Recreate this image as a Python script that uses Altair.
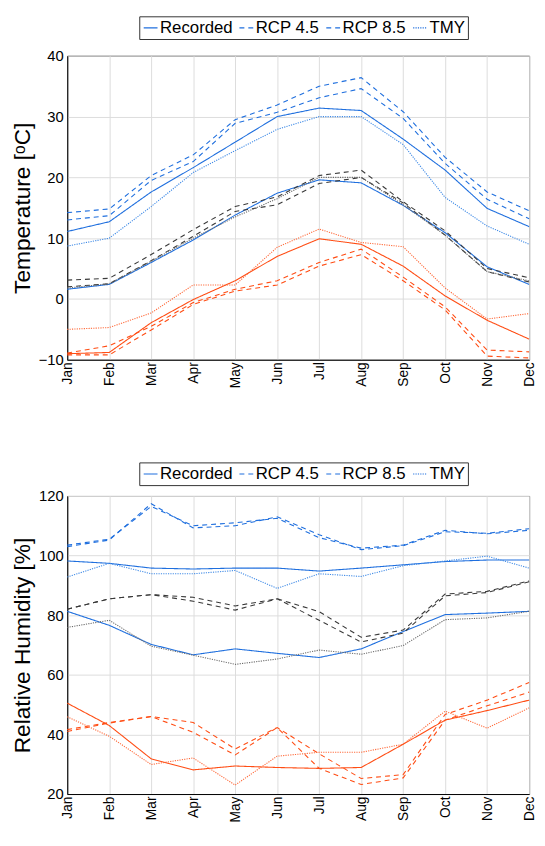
import altair as alt
import pandas as pd

months = ["Jan", "Feb", "Mar", "Apr", "May", "Jun", "Jul", "Aug", "Sep", "Oct", "Nov", "Dec"]
scenarios = ["Recorded", "RCP 4.5", "RCP 8.5", "TMY"]

# Temperature [oC]
t_max_rec = [11.1, 12.7, 17.6, 21.6, 25.8, 30.0, 31.4, 31.0, 26.3, 21.2, 14.9, 11.9]
t_max_45 = [13.0, 13.7, 19.5, 22.6, 28.9, 30.7, 33.1, 34.6, 29.7, 22.3, 16.4, 13.2]
t_max_85 = [14.2, 14.8, 20.3, 23.7, 29.5, 31.9, 35.0, 36.4, 30.8, 23.3, 17.6, 14.5]
t_max_tmy = [8.7, 10.0, 15.2, 20.8, 24.4, 27.9, 30.0, 30.0, 25.4, 16.7, 12.0, 9.0]

t_mean_rec = [1.6, 2.4, 6.0, 9.7, 13.8, 17.4, 19.6, 19.1, 15.4, 10.9, 5.3, 2.4]
t_mean_45 = [2.0, 2.5, 6.3, 10.3, 14.4, 15.5, 19.0, 20.0, 15.8, 10.5, 4.5, 2.8]
t_mean_85 = [3.1, 3.4, 7.3, 11.4, 15.2, 16.8, 20.3, 21.2, 16.0, 11.2, 5.0, 3.5]
t_mean_tmy = [1.8, 2.5, 6.2, 10.0, 13.5, 16.5, 20.0, 20.0, 15.5, 10.5, 4.5, 3.0]

t_min_rec = [-9.0, -8.8, -3.9, -0.1, 3.0, 7.0, 9.9, 9.0, 5.4, 0.5, -3.5, -6.6]
t_min_45 = [-9.2, -9.2, -5.1, -0.9, 1.3, 2.3, 5.4, 7.3, 3.0, -1.8, -9.4, -9.7]
t_min_85 = [-8.9, -7.7, -4.5, -0.6, 1.6, 3.0, 6.0, 8.2, 3.6, -1.3, -8.4, -8.7]
t_min_tmy = [-5.0, -4.7, -2.3, 2.3, 2.3, 8.5, 11.5, 9.3, 8.6, 1.8, -3.3, -2.4]

# Relative humidity [%]
h_max_rec = [98.2, 97.4, 95.8, 95.5, 95.8, 95.8, 94.8, 95.8, 96.9, 98.0, 98.5, 98.5]
h_max_45 = [103.0, 105.2, 117.4, 109.3, 110.0, 113.0, 107.0, 102.0, 103.3, 108.0, 107.5, 109.0]
h_max_85 = [103.5, 105.5, 116.5, 110.0, 111.0, 112.5, 106.0, 102.5, 103.5, 108.5, 107.3, 108.5]
h_max_tmy = [92.8, 97.4, 93.9, 93.9, 95.0, 89.0, 93.9, 93.0, 96.6, 98.2, 99.8, 95.8]

h_mean_rec = [81.3, 76.6, 70.2, 66.7, 68.7, 67.2, 65.8, 68.7, 74.5, 80.2, 80.7, 81.3]
h_mean_45 = [82.0, 85.5, 86.9, 84.7, 81.7, 85.5, 78.3, 71.0, 74.0, 86.5, 87.6, 91.2]
h_mean_85 = [82.0, 85.5, 86.9, 86.0, 83.1, 85.5, 81.2, 72.6, 75.0, 87.1, 88.0, 91.5]
h_mean_tmy = [75.9, 78.3, 69.6, 66.6, 63.5, 65.3, 68.3, 66.9, 69.8, 78.5, 79.1, 81.3]

h_min_rec = [50.5, 43.0, 31.8, 28.1, 29.4, 28.9, 28.6, 28.9, 36.7, 44.8, 48.0, 51.5]
h_min_45 = [41.0, 43.8, 46.0, 40.7, 33.1, 42.3, 28.6, 23.2, 25.4, 44.8, 49.6, 54.2]
h_min_85 = [41.6, 44.0, 46.0, 44.0, 35.1, 42.3, 33.5, 25.2, 26.5, 46.7, 51.5, 57.4]
h_min_tmy = [45.9, 39.4, 29.9, 32.1, 23.0, 32.7, 34.0, 34.0, 36.7, 47.8, 42.1, 48.9]

BLUE = "#1f6fde"
BLUE_L = "#3f8ae6"
DARK = "#3a3a3a"
GREY = "#6a6a6a"
ORANGE = "#ff4d14"
ORANGE_L = "#ff6a3a"


def build(groups):
    rows = []
    for gname, series in groups:
        for scen, (vals, col) in zip(scenarios, series):
            for m, v in zip(months, vals):
                rows.append({"month": m, "value": v, "scenario": scen,
                             "series": gname + "_" + scen, "col": col})
    return pd.DataFrame(rows)


temp_df = build([
    ("max", [(t_max_rec, BLUE), (t_max_45, BLUE), (t_max_85, BLUE), (t_max_tmy, BLUE_L)]),
    ("mean", [(t_mean_rec, BLUE), (t_mean_45, DARK), (t_mean_85, DARK), (t_mean_tmy, GREY)]),
    ("min", [(t_min_rec, ORANGE), (t_min_45, ORANGE), (t_min_85, ORANGE), (t_min_tmy, ORANGE_L)]),
])
hum_df = build([
    ("max", [(h_max_rec, BLUE), (h_max_45, BLUE), (h_max_85, BLUE), (h_max_tmy, BLUE_L)]),
    ("mean", [(h_mean_rec, BLUE), (h_mean_45, DARK), (h_mean_85, DARK), (h_mean_tmy, GREY)]),
    ("min", [(h_min_rec, ORANGE), (h_min_45, ORANGE), (h_min_85, ORANGE), (h_min_tmy, ORANGE_L)]),
])

W = 468


def make_legend(ly):
    return alt.Legend(title=None, orient="none", legendX=73, legendY=ly,
                      direction="horizontal",
                      strokeColor="#333333", padding=3,
                      symbolType="stroke", symbolSize=196, symbolStrokeWidth=1.2,
                      symbolStrokeColor=BLUE, labelFontSize=17, labelColor="black",
                      columnPadding=4, labelOffset=1, labelLimit=200)


def panel(df, title, domain, ticks, height, ly):
    dash_scale = alt.Scale(domain=scenarios, range=[[1, 0], [5, 4], [5, 4], [1.2, 1.2]])
    return alt.Chart(df).mark_line(strokeWidth=1.1).encode(
        x=alt.X("month:O", sort=months, scale=alt.Scale(domain=months, padding=0),
                axis=alt.Axis(title=None, labelAngle=270, labelFontSize=14,
                              labelColor="black", labelPadding=2, tickSize=0,
                              labelBaseline="middle", labelAlign="right")),
        y=alt.Y("value:Q", scale=alt.Scale(domain=domain, nice=False, zero=False),
                axis=alt.Axis(title=title, values=ticks, labelFontSize=15,
                              labelColor="black", titleFontSize=23,
                              titleFontWeight="normal", titleColor="black",
                              titlePadding=4, tickSize=0, labelPadding=4)),
        detail="series:N",
        color=alt.Color("col:N", scale=None),
        strokeDash=alt.StrokeDash("scenario:N", scale=dash_scale, sort=scenarios,
                                  legend=make_legend(ly)),
    ).properties(width=W, height=height)


top = panel(temp_df, "Temperature [ᵒC]", [-10, 40], [-10, 0, 10, 20, 30, 40], 308, -40)
bottom = panel(hum_df, "Relative Humidity [%]", [20, 120], [20, 40, 60, 80, 100, 120], 302, -34)

chart = alt.vconcat(top, bottom, spacing=74).resolve_scale(
    strokeDash="independent"
).resolve_legend(
    strokeDash="independent"
).properties(
    padding={"left": 3, "top": 2, "right": 0, "bottom": 0},
).configure(
    font="Liberation Sans",
).configure_view(
    stroke="black", strokeWidth=1
).configure_axis(
    domainColor="black", gridColor="#dcdcdc", gridWidth=1, grid=True,
    labelFont="Liberation Sans", titleFont="Liberation Sans"
).configure_legend(
    labelFont="Liberation Sans"
)

chart.save("out.html", embed_options={"renderer": "svg", "actions": False})
